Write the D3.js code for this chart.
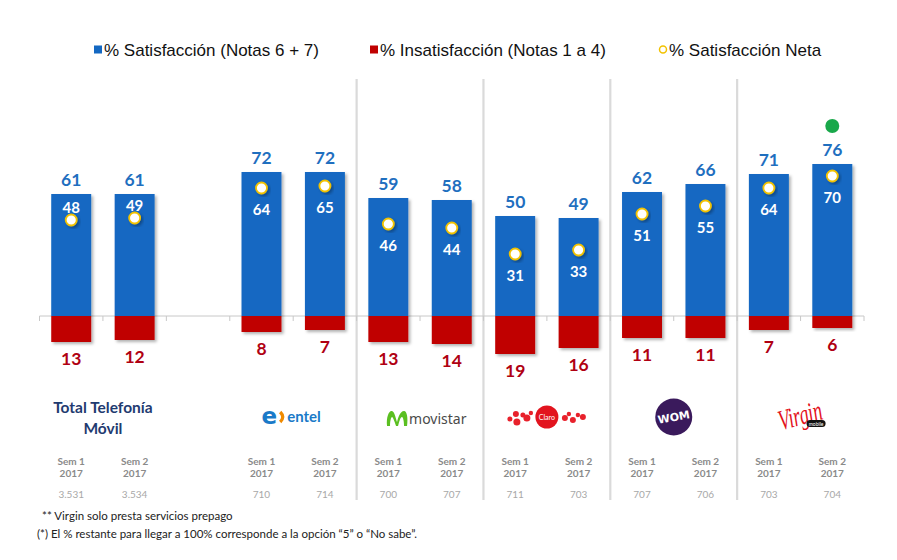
<!DOCTYPE html>
<html><head><meta charset="utf-8">
<script src="https://cdnjs.cloudflare.com/ajax/libs/d3/7.8.5/d3.min.js"></script>
<style>
html,body{margin:0;padding:0;background:#fff;}
svg{display:block;}
</style></head>
<body>
<svg id="chart" width="897" height="560"></svg>
<script>
// ---- data ----
const slots = ["T1","T2","gap","E1","E2","M1","M2","C1","C2","W1","W2","V1","V2"];
const satisfaction = [61,61,null,72,72,59,58,50,49,62,66,71,76];
const insatisfaction = [13,12,null,8,7,13,14,19,16,11,11,7,6];
const neta = [48,49,null,64,65,46,44,31,33,51,55,64,70];
const semesterLabels = ["Sem 1","Sem 2","","Sem 1","Sem 2","Sem 1","Sem 2","Sem 1","Sem 2","Sem 1","Sem 2","Sem 1","Sem 2"];
const yearLabels = ["2017","2017","","2017","2017","2017","2017","2017","2017","2017","2017","2017","2017"];
const sampleN = ["3.531","3.534","","710","714","700","707","711","703","707","706","703","704"];
const groups = ["total","entel","movistar","claro","wom","virgin"];
const groupFirstSlot = ["T1","E1","M1","C1","W1","V1"];
const legendLabels = ["% Satisfacción (Notas 6 + 7)","% Insatisfacción (Notas 1 a 4)","% Satisfacción Neta"];
const footnotes = ["** Virgin solo presta servicios prepago","(*) El % restante para llegar a 100% corresponde a la opción “5” o “No sabe”."];
const highlightSlot = "V2";

// ---- styles ----
const BLUE = "#1468c2", RED = "#c00000", BLUE_TXT = "#1f6fbf", RED_TXT = "#b00012";
const svg = d3.select("#chart");
const defs = svg.append("defs");
const f = defs.append("filter").attr("id","sh").attr("x","-20%").attr("y","-20%").attr("width","150%").attr("height","150%");
f.append("feDropShadow").attr("dx",2).attr("dy",2).attr("stdDeviation",1.5).attr("flood-color","#000").attr("flood-opacity",0.3);

const x = d3.scaleBand().domain(slots).range([39.5, 864]).paddingInner(0.37).paddingOuter(0.185);
const y = d3.scaleLinear().domain([0,100]).range([316,116]);
const step = x.step();
const bw = x.bandwidth();
const cx = s => x(s) + bw/2;
const data = slots.map((s,i)=>({s, i, sat:satisfaction[i], ins:insatisfaction[i], net:neta[i]})).filter(d=>d.sat!=null);

// separators
const sepIdx = groupFirstSlot.slice(2);
svg.append("g").selectAll("line").data(sepIdx).join("line")
  .attr("x1", s=>x(s)-step*0.185).attr("x2", s=>x(s)-step*0.185)
  .attr("y1",79).attr("y2",500).attr("stroke","#dadada").attr("stroke-width",2.2);

// axis
const axisG = svg.append("g").attr("transform",`translate(0,${y(0)})`);
axisG.append("line").attr("x1",39.5).attr("x2",864).attr("stroke","#c8c8c8").attr("stroke-width",1);
const bounds = slots.map(s=>x(s)-step*0.185).concat([864]);
axisG.selectAll("line.t").data(bounds).join("line").attr("class","t")
  .attr("x1",d=>d).attr("x2",d=>d).attr("y1",0).attr("y2",5).attr("stroke","#c8c8c8");

// bars
svg.append("g").selectAll("rect").data(data).join("rect")
  .attr("x",d=>x(d.s)).attr("width",bw).attr("y",d=>y(d.sat)).attr("height",d=>y(0)-y(d.sat))
  .attr("fill",BLUE).attr("filter","url(#sh)");
svg.append("g").selectAll("rect").data(data).join("rect")
  .attr("x",d=>x(d.s)).attr("width",bw).attr("y",y(0)).attr("height",d=>y(0)-y(d.ins))
  .attr("fill",RED).attr("filter","url(#sh)");

const numFont = "Lato, 'Open Sans', sans-serif";
// value labels
svg.append("g").selectAll("text").data(data).join("text")
  .attr("x",d=>cx(d.s)).attr("y",d=>y(d.sat)-8).attr("text-anchor","middle")
  .attr("font-family",numFont).attr("font-weight",700).attr("font-size",17.5).attr("fill",BLUE_TXT)
  .text(d=>d.sat);
svg.append("g").selectAll("text").data(data).join("text")
  .attr("x",d=>cx(d.s)).attr("y",d=>y(0)+(y(0)-y(d.ins))+23).attr("text-anchor","middle")
  .attr("font-family",numFont).attr("font-weight",700).attr("font-size",17.5).attr("fill",RED_TXT)
  .text(d=>d.ins);

// net points
svg.append("g").selectAll("circle").data(data).join("circle")
  .attr("cx",d=>cx(d.s)).attr("cy",d=>y(d.net)).attr("r",5.5)
  .attr("fill","#fff").attr("stroke","#f2c200").attr("stroke-width",1.8).attr("filter","url(#sh)");
svg.append("g").selectAll("text").data(data).join("text")
  .attr("x",d=>cx(d.s)).attr("y",d=> d.i<2 ? y(d.net)-7 : y(d.net)+27).attr("text-anchor","middle")
  .attr("font-family",numFont).attr("font-weight",700).attr("font-size",15).attr("fill","#fff")
  .text(d=>d.net);

// highlight green dot
svg.append("circle").attr("cx",cx(highlightSlot)).attr("cy",y(satisfaction[slots.indexOf(highlightSlot)])-38)
  .attr("r",7).attr("fill","#19a84a");

// bottom labels
const bl = svg.append("g").attr("font-family",numFont).attr("text-anchor","middle");
bl.selectAll("text.sem").data(data).join("text").attr("class","sem")
  .attr("x",d=>cx(d.s)).attr("y",465).attr("font-size",10).attr("font-weight",700).attr("fill","#8a8a8a")
  .text(d=>semesterLabels[d.i]);
bl.selectAll("text.yr").data(data).join("text").attr("class","yr")
  .attr("x",d=>cx(d.s)).attr("y",477).attr("font-size",10).attr("font-weight",700).attr("fill","#8a8a8a")
  .text(d=>yearLabels[d.i]);
bl.selectAll("text.n").data(data).join("text").attr("class","n")
  .attr("x",d=>cx(d.s)).attr("y",498).attr("font-size",10).attr("fill","#a8a8a8")
  .text(d=>sampleN[d.i]);

// group label centers
const gx = g => { const i = slots.indexOf(groupFirstSlot[groups.indexOf(g)]); return (cx(slots[i])+cx(slots[i+1]))/2; };

// Total
const tt = svg.append("text").attr("text-anchor","middle").attr("font-family",numFont).attr("font-weight",700)
  .attr("font-size",15.5).attr("fill","#1f3b70");
tt.append("tspan").attr("x",gx("total")).attr("y",413).text("Total Telefonía");
tt.append("tspan").attr("x",gx("total")).attr("y",434).text("Móvil");

// entel
{ const g = svg.append("g").attr("transform",`translate(${gx("entel")},417)`);
  g.append("text").attr("x",-24).attr("y",7).attr("text-anchor","middle").attr("font-family","'DejaVu Sans',sans-serif").attr("font-weight",700).attr("font-size",23).attr("fill","#1a7ac8").text("e");
  g.append("path").attr("d","M-13,-5 Q-8,0 -13,5").attr("stroke","#f08a00").attr("stroke-width",3.2).attr("fill","none");
  g.append("text").attr("x",-6).attr("y",5).attr("font-family",numFont).attr("font-weight",700).attr("font-size",15).attr("fill","#1a7ac8").text("entel");
}
// movistar
{ const g = svg.append("g").attr("transform",`translate(${gx("movistar")},419)`);
  g.append("path").attr("d","M-33,7 C-34,-2 -31,-9 -28,-8 C-25,-7 -24,1 -23,3 C-22,-1 -20,-8 -16,-8 C-13,-8 -12,-1 -13,7 L-16,7 C-16,2 -17,-2 -18,-2 C-20,-2 -21,4 -22,7 L-24,7 C-25,4 -27,-2 -28,-2 C-29,-2 -30,2 -30,7 Z").attr("fill","#5bbf21");
  g.append("text").attr("x",-11).attr("y",5).attr("font-family","'Noto Sans',sans-serif").attr("font-size",14).attr("fill","#4a4a4a").text("movistar");
}
// claro
{ const g = svg.append("g").attr("transform",`translate(${gx("claro")},417)`);
  const dots = [[-37,2,2.5],[-31,-3,3],[-30,5,3.5],[-24,-2,2.5],[-20,1,3.5],[-16,-4,2.2],[18,1,3],[22,-3,2.2],[26,3,3],[31,-2,2.2],[36,0,3]];
  g.selectAll("circle.d").data(dots).join("circle").attr("cx",d=>d[0]).attr("cy",d=>d[1]).attr("r",d=>d[2]).attr("fill","#e8212b");
  g.append("circle").attr("r",11.5).attr("fill","#e2141e");
  g.append("text").attr("y",3).attr("text-anchor","middle").attr("font-family",numFont).attr("font-size",7).attr("fill","#fff").text("Claro");
}
// WOM
{ const g = svg.append("g").attr("transform",`translate(${gx("wom")},417)`);
  g.append("circle").attr("r",18.5).attr("fill","#3a1a5c");
  g.append("text").attr("y",4).attr("text-anchor","middle").attr("transform","rotate(-10)").attr("font-family","'DejaVu Sans',sans-serif").attr("font-weight",700).attr("font-size",11).attr("fill","#fff").text("WOM");
}
// Virgin
{ const g = svg.append("g").attr("transform",`translate(${gx("virgin")},417)`);
  g.append("text").attr("x",0).attr("y",6).attr("text-anchor","middle").attr("transform","rotate(-15) scale(0.82,1.3)").attr("font-family","'Liberation Serif',serif").attr("font-style","italic").attr("font-size",22).attr("fill","#e3101a").text("Virgin");
  g.append("rect").attr("x",6).attr("y",3).attr("width",19).attr("height",7).attr("rx",3.5).attr("fill","#111");
  g.append("text").attr("x",15.5).attr("y",8.5).attr("text-anchor","middle").attr("font-family",numFont).attr("font-size",5).attr("fill","#fff").text("mobile");
}

// legend
const lg = svg.append("g").attr("font-family","'Liberation Sans',Arial,sans-serif").attr("font-size",17).attr("fill","#111");
const legX = [94, 370, 659];
lg.append("rect").attr("x",legX[0]).attr("y",45.5).attr("width",8).attr("height",8).attr("fill",BLUE);
lg.append("rect").attr("x",legX[1]).attr("y",45.5).attr("width",8).attr("height",8).attr("fill",RED);
lg.append("circle").attr("cx",legX[2]+4).attr("cy",49.5).attr("r",3.5).attr("fill","#fff").attr("stroke","#f2c200").attr("stroke-width",1.5);
lg.selectAll("text").data(legendLabels).join("text").attr("x",(d,i)=>legX[i]+10).attr("y",56).text(d=>d);

// footnotes
svg.append("g").attr("font-family",numFont).attr("font-size",11.5).attr("fill","#222")
  .selectAll("text").data(footnotes).join("text").attr("x",(d,i)=>i===0?42:37).attr("y",(d,i)=>i===0?520:538).text(d=>d);
</script>
</body></html>
